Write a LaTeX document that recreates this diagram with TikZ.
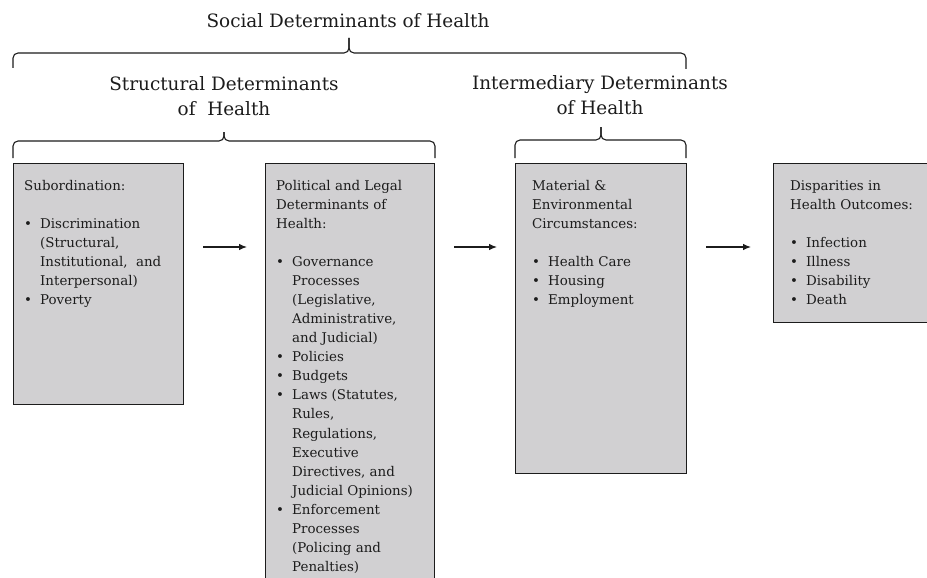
\documentclass[tikz,border=0pt]{standalone}
\usepackage{fontspec}
\setmainfont{DejaVu Serif}
\usetikzlibrary{arrows.meta}
\usetikzlibrary{positioning}
\definecolor{boxgray}{RGB}{209,208,210}
\definecolor{inkgray}{RGB}{28,28,28}
\newcommand{\bitem}{\makebox[16pt][l]{\textbullet}}
\newcommand{\bcont}{\hspace*{16pt}}

\begin{document}
\begin{tikzpicture}[x=1pt,y=-1pt,
box/.style={draw=inkgray, line width=1.3pt, fill=boxgray, anchor=north west},
txt/.style={align=left, inner sep=0pt, text=inkgray, font=\fontsize{13.4}{19.05}\selectfont},
head/.style={align=center, inner sep=0pt, text=inkgray, font=\fontsize{18.4}{25}\selectfont},
brace/.style={draw=inkgray, line width=1.1pt, rounded corners=5pt},
flow/.style={-{Latex[length=8pt,width=6.5pt]}, draw=inkgray, line width=1.1pt, shorten <=19pt, shorten >=18pt}]
\useasboundingbox (0,0) rectangle (927,578);
\clip (0,0) rectangle (927,578);

% titles
\node[head, anchor=base] (social) at (348,28) {Social Determinants of Health};
\node[head, anchor=north] (structural) at (224,76) {Structural Determinants\\of \ Health};
\node[head, anchor=north] (intermed) at (600,75) {Intermediary Determinants\\of Health};

% braces
\draw[brace] (13,68) -- (13,53) -- (349,53) -- (349,38);
\draw[brace] (349,38) -- (349,53) -- (686,53) -- (686,69);
\draw[brace] (13,158) -- (13,141) -- (224,141) -- (224,132);
\draw[brace] (224,132) -- (224,141) -- (435,141) -- (435,158);
\draw[brace] (515,158) -- (515,140) -- (601,140) -- (601,127);
\draw[brace] (601,127) -- (601,140) -- (686,140) -- (686,158);

% boxes
\node[box, minimum width=170pt, minimum height=241pt] (sub) at (13,163) {};
\node[box, minimum width=169pt, minimum height=440pt] (pol) at (265,163) {};
\node[box, minimum width=171pt, minimum height=310pt] (mat) at (515,163) {};
\node[box, minimum width=170pt, minimum height=159pt] (dis) at (773,163) {};

\node[txt, below right=17pt and 11pt of sub.north west] (subtxt) {Subordination:\\[19.05pt]
\bitem Discrimination\\ \bcont (Structural,\\ \bcont Institutional,\ \ and\\ \bcont Interpersonal)\\
\bitem Poverty};
\node[txt, below right=17pt and 11pt of pol.north west] (poltxt) {Political and Legal\\ Determinants of\\ Health:\\[19.05pt]
\bitem Governance\\ \bcont Processes\\ \bcont (Legislative,\\ \bcont Administrative,\\ \bcont and Judicial)\\
\bitem Policies\\ \bitem Budgets\\
\bitem Laws (Statutes,\\ \bcont Rules,\\ \bcont Regulations,\\ \bcont Executive\\ \bcont Directives, and\\ \bcont Judicial Opinions)\\
\bitem Enforcement\\ \bcont Processes\\ \bcont (Policing and\\ \bcont Penalties)};
\node[txt, below right=17pt and 17pt of mat.north west] (mattxt) {Material \&\\ Environmental\\ Circumstances:\\[19.05pt]
\bitem Health Care\\ \bitem Housing\\ \bitem Employment};
\node[txt, below right=17pt and 17pt of dis.north west] (distxt) {Disparities in\\ Health Outcomes:\\[19.05pt]
\bitem Infection\\ \bitem Illness\\ \bitem Disability\\ \bitem Death};

% arrows
\coordinate (arr) at (0,247);
\draw[flow] (sub.east |- arr) -- (pol.west |- arr);
\draw[flow] (pol.east |- arr) -- (mat.west |- arr);
\draw[flow, shorten >=22pt] (mat.east |- arr) -- (dis.west |- arr);
\end{tikzpicture}
\end{document}
